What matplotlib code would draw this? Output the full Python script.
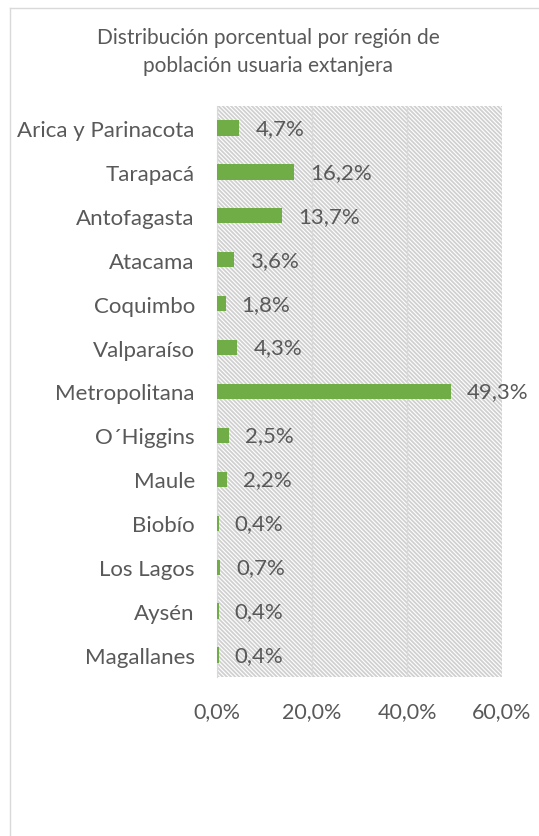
import matplotlib
matplotlib.use("Agg")
import matplotlib.pyplot as plt
from matplotlib.lines import Line2D

regiones = ["Arica y Parinacota", "Tarapacá", "Antofagasta", "Atacama", "Coquimbo",
            "Valparaíso", "Metropolitana", "O´Higgins", "Maule", "Biobío",
            "Los Lagos", "Aysén", "Magallanes"]
porcentajes = [4.7, 16.2, 13.7, 3.6, 1.8, 4.3, 49.3, 2.5, 2.2, 0.4, 0.7, 0.4, 0.4]
ticks = [0, 20, 40, 60]
tick_labels = ["0,0%", "20,0%", "40,0%", "60,0%"]

gris = "#595959"
plt.rcParams['font.family'] = ['Lato', 'DejaVu Sans']
plt.rcParams['hatch.linewidth'] = 1.3

fig = plt.figure(figsize=(5.39, 8.37), dpi=100)
W, H = 539, 837
ax = fig.add_axes([217 / W, 1 - 678 / H, (502 - 217) / W, (678 - 107) / H])

# fondo rayado del area de trazado
ax.add_patch(plt.Rectangle((0, 0), 1, 1, transform=ax.transAxes, facecolor='white',
                           edgecolor='#d0d0d0', linewidth=0, hatch='\\' * 8, zorder=0))

pos = list(range(len(regiones)))
ax.barh(pos, porcentajes, height=0.35, color='#70ad47', zorder=3)
for p, v in zip(pos, porcentajes):
    ax.annotate(f"{v:.1f}%".replace('.', ','), (v, p), xytext=(11.5, 0),
                textcoords='offset points', va='center', ha='left',
                fontsize=16, color=gris, zorder=4)

ax.set_xlim(0, 60)
ax.set_ylim(len(regiones) - 0.5, -0.5)
ax.set_xticks(ticks)
ax.set_xticklabels(tick_labels, fontsize=15.5)
ax.set_yticks(pos)
ax.set_yticklabels(regiones, fontsize=16)
ax.tick_params(axis='both', length=0, colors=gris)
ax.tick_params(axis='x', pad=17)
ax.tick_params(axis='y', pad=16)
ax.grid(axis='x', color='#d9d9d9', linewidth=1, zorder=1)
for s in ['top', 'right', 'bottom']:
    ax.spines[s].set_visible(False)
ax.spines['left'].set_color('#d9d9d9')
ax.spines['left'].set_zorder(2)

fig.text(268 / W, 1 - 52 / H, "Distribución porcentual por región de\npoblación usuaria extanjera",
         ha='center', va='center', fontsize=15, color=gris, linespacing=1.55)

# borde del grafico
fig.add_artist(Line2D([9.5 / W, 9.5 / W], [0, 1 - 8.5 / H], transform=fig.transFigure,
                      color='#d9d9d9', linewidth=1))
fig.add_artist(Line2D([9.5 / W, 1], [1 - 8.5 / H, 1 - 8.5 / H], transform=fig.transFigure,
                      color='#d9d9d9', linewidth=1))

fig.savefig("out.png", dpi=100)
